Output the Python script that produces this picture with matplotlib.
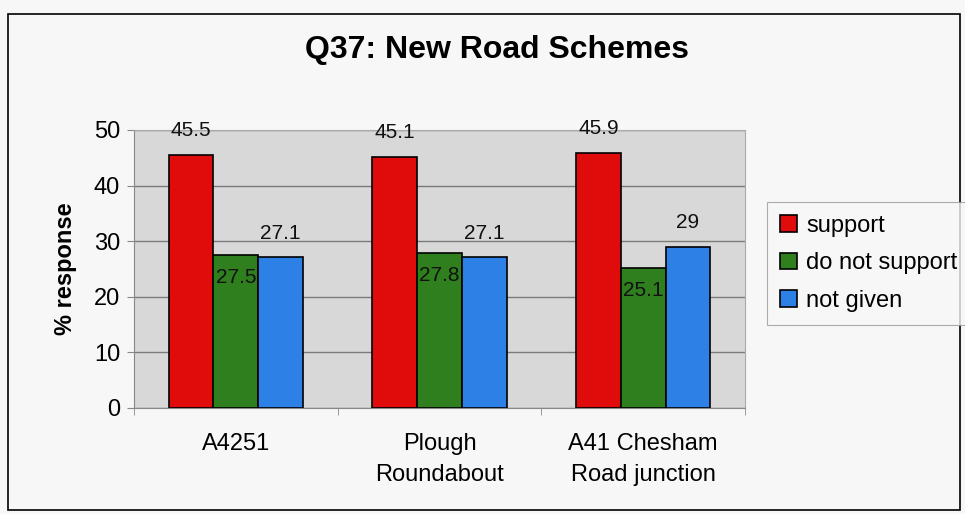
import numpy as np
import matplotlib.pyplot as plt
from matplotlib.patches import Rectangle

plt.rcParams['font.family'] = ['Liberation Sans', 'DejaVu Sans']

categories = ['A4251', 'Plough\nRoundabout', 'A41 Chesham\nRoad junction']
series_names = ['support', 'do not support', 'not given']
support = [45.5, 45.1, 45.9]
not_support = [27.5, 27.8, 25.1]
not_given = [27.1, 27.1, 29]
labels_support = ['45.5', '45.1', '45.9']
labels_not_support = ['27.5', '27.8', '25.1']
labels_not_given = ['27.1', '27.1', '29']

colors = ['#e00c0c', '#2f7f1f', '#2d80e6']

fig = plt.figure(figsize=(9.65, 5.14), dpi=100, facecolor='#f7f7f7')
# frame around the whole chart
fig.patches.append(Rectangle((8 / 965, 4 / 514), 952 / 965, 496 / 514, transform=fig.transFigure,
                             fill=False, edgecolor='black', linewidth=1.2))

ax = fig.add_axes([134 / 965, 1 - 408 / 514, 611 / 965, 278 / 514])
ax.set_facecolor('#d8d8d8')

x = np.arange(len(categories))
w = 0.22
data = [support, not_support, not_given]
texts = [labels_support, labels_not_support, labels_not_given]
for i, (vals, name, col) in enumerate(zip(data, series_names, colors)):
    bars = ax.bar(x + (i - 1) * w, vals, w, color=col, edgecolor='black', linewidth=1.2,
                  label=name, zorder=3)
    for b, v, t in zip(bars, vals, texts[i]):
        cx = b.get_x() + b.get_width() / 2
        if i == 1:
            # green labels sit inside the bar
            ax.annotate(t, (cx, v), xytext=(0, -16), textcoords='offset points',
                        ha='center', va='center', fontsize=15, color='#111111', zorder=4)
        else:
            ax.annotate(t, (cx, v), xytext=(0, 17.5), textcoords='offset points',
                        ha='center', va='center', fontsize=15, color='#111111', zorder=4,
                        annotation_clip=False)

ax.set_xlim(-0.5, 2.5)
ax.set_ylim(0, 50)
ax.set_yticks(range(0, 51, 10))
ax.yaxis.grid(True, color='#7a7a7a', linewidth=1.0, zorder=0)
ax.set_axisbelow(True)
ax.set_xticks(x)
ax.set_xticklabels(categories, fontsize=17, linespacing=1.55)
ax.set_xticks([-0.5, 0.5, 1.5, 2.5], minor=True)
ax.tick_params(axis='x', which='major', length=0, pad=18)
ax.tick_params(axis='x', which='minor', length=5, color='#888888')
ax.tick_params(axis='y', labelsize=17, length=5, color='#888888', pad=5)
for s in ['top', 'right']:
    ax.spines[s].set_color('#aaaaaa')
    ax.spines[s].set_linewidth(0.8)
for s in ['left', 'bottom']:
    ax.spines[s].set_color('#888888')

ax.set_ylabel('% response', fontsize=17, fontweight='bold', labelpad=12)

fig.text(497 / 965, 1 - 50 / 514, 'Q37: New Road Schemes', ha='center', va='center',
         fontsize=23, fontweight='bold')

leg = fig.legend(loc='upper left', bbox_to_anchor=(767 / 965, 1 - 202 / 514), fontsize=17,
                 frameon=True, fancybox=False, edgecolor='#999999', facecolor='#f7f7f7',
                 handlelength=0.7, handleheight=0.7, handletextpad=0.4, labelspacing=0.65,
                 borderpad=0.55, borderaxespad=0)
leg.get_frame().set_linewidth(0.8)

fig.savefig('out.png', dpi=100, facecolor=fig.get_facecolor())
